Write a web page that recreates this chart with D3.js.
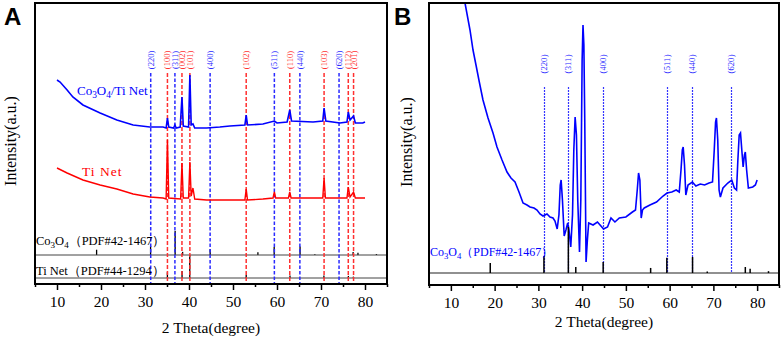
<!DOCTYPE html>
<html>
<head>
<meta charset="utf-8">
<script src="https://cdn.jsdelivr.net/npm/d3@7"></script>
<style>
  body { margin: 0; background: #fff; }
  text { font-family: "Liberation Serif", "Times New Roman", serif; }
  text.panel { font-family: "Liberation Sans", Arial, sans-serif; font-weight: bold; }
</style>
</head>
<body>
<svg id="chart" width="782" height="337"></svg>
<script>
// ---- data ----
const thetaTicks = [10, 20, 30, 40, 50, 60, 70, 80];
const thetaMinor = [5, 15, 25, 35, 45, 55, 65, 75, 85];

// Co3O4 and Ti reflections marked with vertical lines
const coPeakTheta = [31.3, 36.8, 44.8, 59.4, 65.2, 74.1];
const coPeakLabels = ['220', '311', '400', '511', '440', '620'];
const tiPeakTheta = [35.1, 38.4, 40.2, 53.0, 62.9, 70.7, 76.2, 77.4];
const tiPeakLabels = ['100', '002', '101', '102', '110', '103', '112', '201'];

// standard cards (relative intensity)
const coRefTheta = [19.0, 31.27, 36.85, 38.55, 44.81, 55.66, 59.36, 65.24, 68.6, 77.3, 78.4, 82.6];
const coRefInt = [22, 37, 100, 13, 24, 11, 33, 35, 3, 13, 9, 4];
const tiRefTheta = [35.09, 38.42, 40.17, 53.0, 62.95, 70.66, 74.16, 76.22, 77.37];
const tiRefInt = [25, 30, 100, 13, 11, 11, 1, 9, 6];

// panel A: Co3O4/Ti Net pattern
const coTiTheta = [10.0, 10.7, 12.3, 13.6, 15.9, 19.8, 23.6, 27.3, 31.1, 34.1, 34.8, 35.1, 35.4, 36.5, 36.8, 37.1,
  38.0, 38.4, 38.7, 39.9, 40.2, 40.5, 40.9, 41.3, 44.0, 47.0, 49.3, 52.7, 53.0, 53.3, 56.8, 59.4, 60.0,
  62.3, 62.9, 63.3, 68.2, 70.4, 70.7, 71.1, 74.3, 75.9, 76.2, 76.6, 77.4, 77.8, 79.5, 80.0];
const coTiInt = [2040, 2020, 1940, 1870, 1790, 1710, 1640, 1590, 1570, 1570, 1560, 1660, 1570, 1560, 1590, 1560,
  1570, 1870, 1580, 1570, 2090, 1590, 1600, 1560, 1560, 1570, 1580, 1590, 1690, 1590, 1600, 1630, 1610,
  1620, 1740, 1630, 1620, 1630, 1760, 1630, 1610, 1620, 1720, 1640, 1680, 1610, 1610, 1620];

// panel A: Ti Net pattern
const tiNetTheta = [10.0, 12.3, 15.9, 19.8, 23.6, 27.3, 31.1, 34.1, 34.8, 35.1, 35.4, 38.1, 38.4, 38.7, 39.9, 40.2,
  40.5, 40.9, 41.3, 44.0, 49.0, 52.7, 53.0, 53.3, 56.8, 59.1, 59.4, 59.7, 62.6, 62.9, 63.2, 68.2, 70.4,
  70.7, 71.0, 75.9, 76.2, 76.6, 77.4, 77.8, 80.0];
const tiNetInt = [1160, 1110, 1040, 990, 950, 900, 870, 860, 850, 1440, 860, 850, 1210, 860, 860, 1220,
  880, 960, 850, 840, 840, 840, 950, 840, 850, 860, 920, 860, 860, 920, 860, 860, 860,
  1060, 860, 860, 970, 870, 920, 860, 860];

// panel B: Co3O4/Ti Net pattern
const bTheta = [12.5, 13.23, 14.37, 15.06, 15.74, 16.5, 17.34, 18.49, 19.63, 20.54, 21.69, 22.83, 23.74, 24.66,
  25.57, 26.49, 27.4, 28.09, 29.0, 29.69, 30.37, 31.06, 31.97, 32.66, 33.34, 33.8, 34.3, 34.7, 35.0, 35.2,
  35.5, 35.9, 36.3, 36.7, 37.0, 37.4, 37.8, 38.1, 38.4, 38.7, 39.0, 39.4, 39.7, 40.0, 40.2, 40.4, 40.6,
  40.9, 41.2, 41.5, 42.5, 43.5, 44.3, 44.9, 45.8, 46.6, 47.5, 48.5, 50.0, 51.5, 52.2, 52.6, 52.9, 53.2,
  53.5, 53.8, 54.2, 55.5, 57.0, 58.5, 59.4, 60.5, 61.5, 62.2, 62.6, 62.9, 63.1, 63.4, 63.7, 64.2, 65.2,
  66.0, 67.0, 68.0, 69.0, 69.8, 70.2, 70.5, 70.7, 71.0, 71.3, 71.6, 72.2, 73.3, 74.2, 74.8, 75.3, 75.6,
  75.9, 76.2, 76.5, 76.8, 77.1, 77.3, 77.6, 78.0, 79.0, 79.6, 80.0];
const bInt = [3050, 2820, 2550, 2350, 2200, 2030, 1850, 1670, 1520, 1380, 1250, 1130, 1070, 1030,
  930, 820, 800, 780, 770, 750, 710, 690, 710, 680, 670, 640, 560, 700, 1000, 1050,
  850, 490, 550, 620, 550, 380, 700, 1350, 1680, 1500, 850, 330, 850, 2250, 2600, 2400, 1650,
  230, 450, 620, 600, 630, 590, 560, 580, 670, 630, 670, 680, 730, 750, 950, 1120, 1050,
  670, 750, 770, 800, 830, 890, 920, 930, 950, 930, 1150, 1350, 1380, 1200, 900, 1000, 1030,
  990, 1010, 1000, 1020, 1030, 1350, 1630, 1670, 1450, 950, 880, 970, 1020, 1050, 970, 950, 1250,
  1500, 1520, 1350, 1180, 1300, 1330, 1150, 970, 980, 1000, 1050];

// ---- drawing ----
const svg = d3.select('#chart');
const BLUE = '#0000ff', RED = '#ff0000';

// text with subscript digits after Co / O, e.g. Co3O4
function formula(sel, str) {
    let sub = false;
    str.split(/(?<=Co|O)(\d)/).forEach(part => {
        if (part === '') return;
        if (/^\d$/.test(part) && !sub) {
            sel.append('tspan').attr('dy', 3).attr('font-size', '0.72em').text(part);
            sub = true;
        } else {
            sel.append('tspan').attr('dy', sub ? -3 : 0).text(part);
            sub = false;
        }
    });
}

function frameAndAxis(x, top, bottom, titleY) {
    const g = svg.append('g');
    g.append('g')
        .attr('transform', `translate(0,${bottom})`)
        .call(d3.axisBottom(x).tickValues(thetaMinor).tickSize(3).tickFormat(''))
        .call(s => s.select('.domain').remove())
        .selectAll('line').attr('stroke', '#000').attr('stroke-width', 1.5);
    const ax = g.append('g')
        .attr('transform', `translate(0,${bottom})`)
        .call(d3.axisBottom(x).tickValues(thetaTicks).tickSize(6).tickPadding(6));
    ax.select('.domain').remove();
    ax.selectAll('line').attr('stroke', '#000').attr('stroke-width', 1.5);
    ax.selectAll('text').attr('font-size', 15.5).attr('fill', '#000');
    const [x0, x1] = x.range();
    g.append('rect').attr('x', x0).attr('y', top).attr('width', x1 - x0).attr('height', bottom - top)
        .attr('fill', 'none').attr('stroke', '#000').attr('stroke-width', 2);
    g.append('text').attr('x', (x0 + x1) / 2).attr('y', titleY).attr('text-anchor', 'middle')
        .attr('font-size', 15.5).text('2 Theta(degree)');
}

function yTitle(xPos, yPos) {
    svg.append('text').attr('transform', `translate(${xPos},${yPos}) rotate(-90)`)
        .attr('text-anchor', 'middle').attr('font-size', 16).text('Intensity(a.u.)');
}

// ===== Panel A =====
const xA = d3.scaleLinear().domain([5, 85]).range([35, 387]);
const yA = d3.scaleLinear().domain([0, 2810]).range([284, 3]);
const coRefA = d3.scaleLinear().domain([0, 100]).range([255, 231]);
const tiRefA = d3.scaleLinear().domain([0, 100]).range([278, 255]);

svg.append('clipPath').attr('id', 'clipA').append('rect').attr('x', 35).attr('y', 3).attr('width', 352).attr('height', 281);
svg.append('clipPath').attr('id', 'clipB').append('rect').attr('x', 429).attr('y', 3).attr('width', 350).attr('height', 282);

const gA = svg.append('g').attr('clip-path', 'url(#clipA)');

// reference sticks
gA.selectAll('.coRefA').data(coRefTheta).enter().append('line')
    .attr('x1', d => xA(d)).attr('x2', d => xA(d))
    .attr('y1', coRefA(0)).attr('y2', (d, i) => coRefA(coRefInt[i]))
    .attr('stroke', '#000').attr('stroke-width', 1.3);
gA.selectAll('.tiRefA').data(tiRefTheta).enter().append('line')
    .attr('x1', d => xA(d)).attr('x2', d => xA(d))
    .attr('y1', tiRefA(0)).attr('y2', (d, i) => tiRefA(tiRefInt[i]))
    .attr('stroke', '#000').attr('stroke-width', 1.3);
[coRefA(0), tiRefA(0)].forEach(yy => {
    gA.append('line').attr('x1', 35).attr('x2', 387).attr('y1', yy).attr('y2', yy)
        .attr('stroke', '#444').attr('stroke-width', 1);
});

// dashed reflection lines
gA.selectAll('.coLineA').data(coPeakTheta).enter().append('line')
    .attr('x1', d => xA(d)).attr('x2', d => xA(d)).attr('y1', 73).attr('y2', 284)
    .attr('stroke', '#2a2aff').attr('stroke-width', 1.5).attr('stroke-dasharray', '3.5,2');
gA.selectAll('.tiLineA').data(tiPeakTheta).enter().append('line')
    .attr('x1', d => xA(d)).attr('x2', d => xA(d)).attr('y1', 73).attr('y2', 284)
    .attr('stroke', '#ff3030').attr('stroke-width', 1.5).attr('stroke-dasharray', '4,2');

// peak labels
gA.selectAll('.coLabA').data(coPeakTheta).enter().append('text')
    .attr('transform', d => `translate(${xA(d) + 3},60) rotate(-90)`)
    .attr('text-anchor', 'middle').attr('font-size', 8.5).attr('fill', '#2a2aff')
    .text((d, i) => `(${coPeakLabels[i]})`);
gA.selectAll('.tiLabA').data(tiPeakTheta).enter().append('text')
    .attr('transform', d => `translate(${xA(d) + 3},60) rotate(-90)`)
    .attr('text-anchor', 'middle').attr('font-size', 8.5).attr('fill', '#ff3030')
    .text((d, i) => `(${tiPeakLabels[i]})`);

// curves
const lineA = d3.line().x(d => xA(d[0])).y(d => yA(d[1]));
gA.append('path').datum(d3.zip(tiNetTheta, tiNetInt)).attr('d', lineA)
    .attr('fill', 'none').attr('stroke', RED).attr('stroke-width', 1.4);
gA.append('path').datum(d3.zip(coTiTheta, coTiInt)).attr('d', lineA)
    .attr('fill', 'none').attr('stroke', BLUE).attr('stroke-width', 1.6);

// text labels
formula(svg.append('text').attr('x', 77).attr('y', 95).attr('font-size', 13).attr('fill', BLUE), 'Co3O4/Ti Net');
svg.append('text').attr('x', 82).attr('y', 176).attr('font-size', 13.5).attr('letter-spacing', 1)
    .attr('fill', RED).text('Ti Net');
formula(svg.append('text').attr('x', 36).attr('y', 245).attr('font-size', 12.5).attr('fill', '#000'), 'Co3O4（PDF#42-1467）');
svg.append('text').attr('x', 36).attr('y', 275).attr('font-size', 12.5).attr('fill', '#000').text('Ti Net（PDF#44-1294）');

frameAndAxis(xA, 3, 284, 333);
yTitle(16, 141);
svg.append('text').attr('class', 'panel').attr('x', 4).attr('y', 25).attr('font-size', 24).text('A');

// ===== Panel B =====
const xB = d3.scaleLinear().domain([5, 85]).range([429, 779]);
const yB = d3.scaleLinear().domain([0, 2820]).range([285, 3]);
const refB = d3.scaleLinear().domain([0, 100]).range([273, 227]);

const gB = svg.append('g').attr('clip-path', 'url(#clipB)');

gB.append('line').attr('x1', 429).attr('x2', 779).attr('y1', refB(0)).attr('y2', refB(0))
    .attr('stroke', '#222').attr('stroke-width', 1.2);

// fine dotted marker lines
gB.selectAll('.coLineB').data(coPeakTheta).enter().append('line')
    .attr('x1', d => Math.round(xB(d)) + 0.5).attr('x2', d => Math.round(xB(d)) + 0.5)
    .attr('y1', 87).attr('y2', refB(0))
    .style('stroke', '#3535ff').style('stroke-width', 1.2).style('stroke-dasharray', '2,1');

gB.selectAll('.coLabB').data(coPeakTheta).enter().append('text')
    .attr('transform', d => `translate(${xB(d) + 3},64) rotate(-90)`)
    .attr('text-anchor', 'middle').attr('font-size', 8.5).attr('fill', '#2a2aff')
    .text((d, i) => `（${coPeakLabels[i]}）`);

const lineB = d3.line().x(d => xB(d[0])).y(d => yB(d[1]));
gB.append('path').datum(d3.zip(bTheta, bInt)).attr('d', lineB)
    .attr('fill', 'none').attr('stroke', BLUE).attr('stroke-width', 1.6);

gB.selectAll('.coRefB').data(coRefTheta).enter().append('line')
    .attr('x1', d => xB(d)).attr('x2', d => xB(d))
    .attr('y1', refB(0)).attr('y2', (d, i) => refB(coRefInt[i]))
    .attr('stroke', '#000').attr('stroke-width', 1.5);

formula(svg.append('text').attr('x', 430).attr('y', 256).attr('font-size', 12).attr('fill', BLUE), 'Co3O4（PDF#42-1467）');

frameAndAxis(xB, 3, 285, 327);
yTitle(412, 142);
svg.append('text').attr('class', 'panel').attr('x', 394).attr('y', 25).attr('font-size', 24).text('B');
</script>
</body>
</html>
